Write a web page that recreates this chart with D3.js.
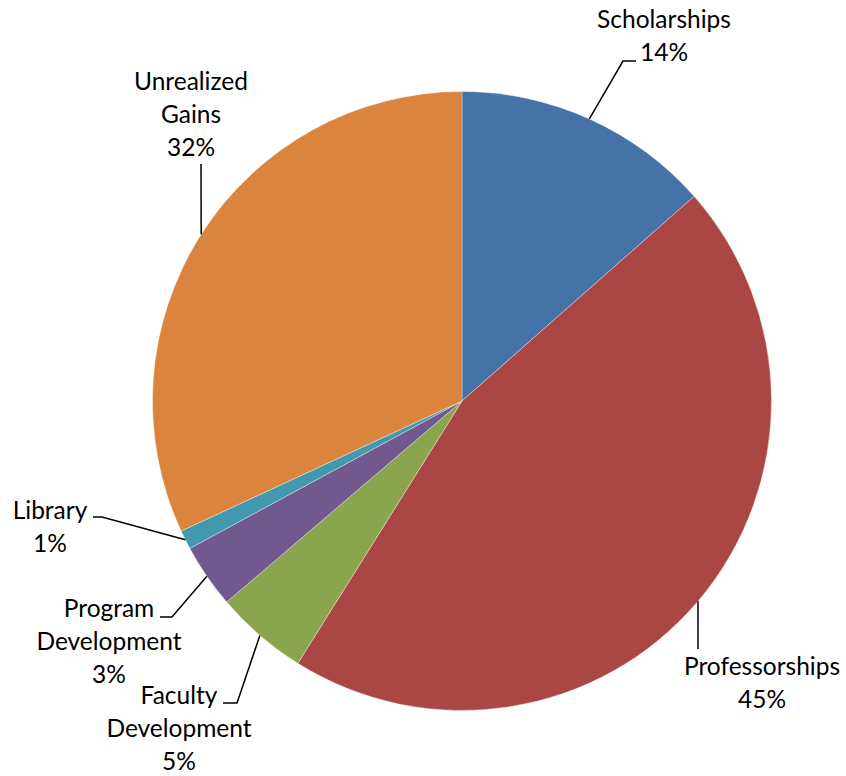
<!DOCTYPE html>
<html>
<head>
<meta charset="utf-8">
<script src="https://cdn.jsdelivr.net/npm/d3@7"></script>
<style>
  body { margin: 0; background: #fff; }
  svg { display: block; }
  text { font-family: Lato, "Open Sans", sans-serif; font-size: 24.5px; fill: #000; }
</style>
</head>
<body>
<svg id="chart" width="846" height="776"></svg>
<script>
// slice data, clockwise from 12 o'clock
var categories = ["Scholarships", "Professorships", "Faculty Development", "Program Development", "Library", "Unrealized Gains"];
var values = [13.5, 45.4, 4.85, 3.35, 1.0, 31.9];
var pctLabels = ["14%", "45%", "5%", "3%", "1%", "32%"];
var labelLines = [["Scholarships"], ["Professorships"], ["Faculty", "Development"], ["Program", "Development"], ["Library"], ["Unrealized", "Gains"]];
var colors = ["#4572A7", "#AA4643", "#89A54E", "#71588F", "#4198AF", "#DB843D"];

// label placement (text centre x, first baseline y) and leader bend points
var labelLayout = [
    { x: 664, y: 28, bend: [[623, 61], [636, 61]] },
    { x: 762, y: 675, bend: [[698, 649]] },
    { x: 179, y: 704, bend: [[237, 703], [223, 703]] },
    { x: 109, y: 617, bend: [[172, 617], [160, 617]] },
    { x: 50, y: 519, bend: [[102, 517], [93, 517]] },
    { x: 191, y: 90, bend: [[201, 164]] }
];

var svg = d3.select("#chart"),
    cx = 462, cy = 401, radius = 309.5,
    lineH = 33;

var g = svg.append("g").attr("transform", "translate(" + cx + "," + cy + ")");

var pie = d3.pie().sort(null).value(function (d) { return d; });
var arc = d3.arc().innerRadius(0).outerRadius(radius);
var arcs = pie(values);

g.selectAll("path.slice")
    .data(arcs)
    .enter().append("path")
    .attr("class", "slice")
    .attr("d", arc)
    .attr("fill", function (d, i) { return colors[i]; })
    .attr("stroke", "#fff")
    .attr("stroke-width", 0.6)
    .attr("stroke-opacity", 0.6);

// leader lines: start on the rim at the slice mid angle
function rimPoint(d) {
    var a = (d.startAngle + d.endAngle) / 2;
    return [cx + radius * Math.sin(a), cy - radius * Math.cos(a)];
}

svg.append("g").selectAll("path")
    .data(arcs)
    .enter().append("path")
    .attr("fill", "none")
    .attr("stroke", "#000")
    .attr("stroke-width", 1.5)
    .attr("d", function (d, i) { return d3.line()([rimPoint(d)].concat(labelLayout[i].bend)); });

var labels = svg.append("g").selectAll("text")
    .data(arcs)
    .enter().append("text")
    .attr("text-anchor", "middle")
    .attr("x", function (d, i) { return labelLayout[i].x; })
    .attr("y", function (d, i) { return labelLayout[i].y; });

labels.each(function (d, i) {
    var t = d3.select(this);
    var lines = labelLines[i].concat([pctLabels[i]]);
    lines.forEach(function (s, k) {
        t.append("tspan")
            .attr("x", labelLayout[i].x)
            .attr("dy", k === 0 ? 0 : lineH)
            .text(s);
    });
});
</script>
</body>
</html>
